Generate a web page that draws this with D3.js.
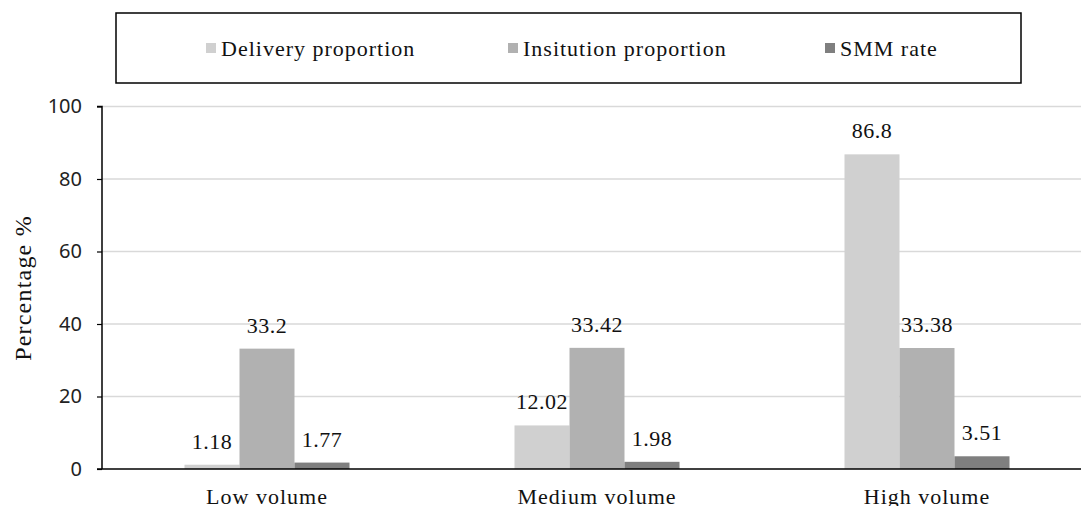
<!DOCTYPE html>
<html><head><meta charset="utf-8">
<script src="https://cdn.jsdelivr.net/npm/d3@7/dist/d3.min.js"></script>
<style>body{margin:0;background:#fff;}svg{display:block;}</style>
</head><body>
<svg id="chart" width="1081" height="506"></svg>
<script>
const categories = ["Low volume", "Medium volume", "High volume"];
const seriesLabels = ["Delivery proportion", "Insitution proportion", "SMM rate"];
const delivery = [1.18, 12.02, 86.8];
const institution = [33.2, 33.42, 33.38];
const smm = [1.77, 1.98, 3.51];
const yTicks = [0, 20, 40, 60, 80, 100];
const colors = ["#d0d0d0", "#b1b1b1", "#7f7f7f"];

const series = [delivery, institution, smm];
const svg = d3.select("#chart");
const serif = "'Liberation Serif','Times New Roman',serif";
const sans = "'Noto Sans',sans-serif";

const mLeft = 102, mRight = 1092, mTop = 106.5, mBottom = 469;
const x0 = d3.scaleBand().domain(categories).range([mLeft, mRight]).paddingInner(0.5).paddingOuter(0.25);
const x1 = d3.scaleBand().domain(d3.range(series.length)).range([0, x0.bandwidth()]);
const y = d3.scaleLinear().domain([0, 100]).range([mBottom, mTop]);

// gridlines
svg.append("g").selectAll("line").data(yTicks.filter(d => d > 0)).join("line")
  .attr("x1", mLeft).attr("x2", 1081)
  .attr("y1", d => y(d)).attr("y2", d => y(d))
  .attr("stroke", "#d9d9d9").attr("stroke-width", 1.5);

// bars
const groups = svg.append("g").selectAll("g").data(categories).join("g")
  .attr("transform", c => `translate(${x0(c)},0)`);
groups.selectAll("rect").data((c, i) => series.map((s, k) => ({k, v: s[i]}))).join("rect")
  .attr("x", d => x1(d.k)).attr("width", x1.bandwidth())
  .attr("y", d => y(d.v)).attr("height", d => y(0) - y(d.v))
  .attr("fill", d => colors[d.k]);
groups.selectAll("text").data((c, i) => series.map((s, k) => ({k, v: s[i]}))).join("text")
  .attr("x", d => x1(d.k) + x1.bandwidth() / 2).attr("y", d => y(d.v) - 16)
  .attr("text-anchor", "middle").attr("font-family", serif).attr("font-size", 22)
  .attr("letter-spacing", 0.5).attr("fill", "#111").text(d => d.v);

// y axis
const yAxis = svg.append("g").attr("transform", `translate(${mLeft},0)`)
  .call(d3.axisLeft(y).tickValues(yTicks).tickSize(5).tickPadding(15));
yAxis.select(".domain").attr("stroke", "#000").attr("stroke-width", 1.5).attr("d", `M-5,${mTop}H0V${mBottom}`);
yAxis.selectAll(".tick line").attr("stroke", "#000").attr("stroke-width", 1.2);
yAxis.selectAll(".tick text").attr("font-family", sans).attr("font-size", 20).attr("fill", "#222");

// x axis
const xAxis = svg.append("g").attr("transform", `translate(0,${mBottom})`)
  .call(d3.axisBottom(x0).tickSize(0).tickPadding(19));
xAxis.select(".domain").attr("stroke", "#000").attr("stroke-width", 1.5).attr("d", `M${mLeft - 5},0H1081`);
xAxis.selectAll(".tick text").attr("font-family", serif).attr("font-size", 22)
  .attr("letter-spacing", 1).attr("fill", "#111");

// y title
svg.append("text").attr("transform", `translate(31,288) rotate(-90)`)
  .attr("text-anchor", "middle").attr("font-family", serif).attr("font-size", 24)
  .attr("letter-spacing", 1.2).attr("fill", "#111")
  .text("Percentage %");

// legend
svg.append("rect").attr("x", 116).attr("y", 13).attr("width", 905).attr("height", 70)
  .attr("fill", "none").attr("stroke", "#000").attr("stroke-width", 1.5);
const legX = [206, 508, 825];
const leg = svg.append("g").selectAll("g").data(seriesLabels).join("g")
  .attr("transform", (d, i) => `translate(${legX[i]},48)`);
leg.append("rect").attr("x", 0).attr("y", -5).attr("width", 10).attr("height", 10).attr("fill", (d, i) => colors[i]);
leg.append("text").attr("x", 15).attr("y", 0).attr("dy", "0.35em")
  .attr("font-family", serif).attr("font-size", 22).attr("letter-spacing", 1)
  .attr("fill", "#111").text(d => d);
</script>
</body></html>
